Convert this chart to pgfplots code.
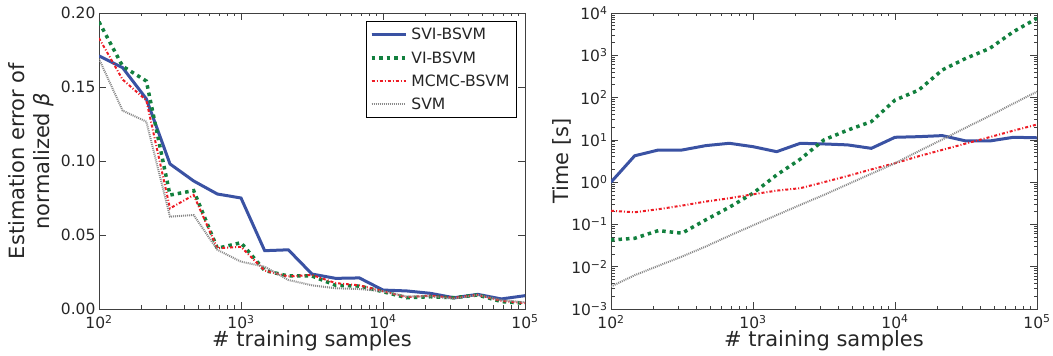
\documentclass[border=0pt]{standalone}
\usepackage{pgfplots}
\pgfplotsset{compat=1.18}
\usepackage{pgfplotstable}
\usepackage{fontspec}
\setmainfont{DejaVu Sans}
\definecolor{sviblue}{HTML}{3A52A3}
\definecolor{vigreen}{HTML}{12803E}
\definecolor{mcmcred}{HTML}{EE1C25}
\definecolor{svmgray}{HTML}{8A8A8A}
\newcommand\legfont{\fontsize{15.6}{18}\selectfont}

\pgfplotstableread{
x       svi     vi      mcmc    svm
100     0.171   0.194   0.183   0.169
146.78  0.163   0.164   0.155   0.134
215.44  0.142   0.154   0.141   0.1266
316.23  0.098   0.077   0.068   0.0624
464.16  0.0865  0.080   0.077   0.0635
681.29  0.0777  0.041   0.041   0.040
1000    0.075   0.0448  0.042   0.032
1467.8  0.0394  0.026   0.026   0.0286
2154.4  0.040   0.0223  0.022   0.0196
3162.3  0.0236  0.0223  0.023   0.016
4641.6  0.0207  0.016   0.0175  0.014
6812.9  0.021   0.0155  0.016   0.0135
10000   0.0128  0.0117  0.012   0.012
14678   0.0122  0.0076  0.008   0.0085
21544   0.0106  0.0083  0.009   0.0085
31623   0.0076  0.0076  0.0075  0.007
46416   0.0099  0.0095  0.0095  0.0095
68129   0.0068  0.005   0.0055  0.006
100000  0.009   0.0038  0.004   0.0045
}\errtable

\pgfplotstableread{
x       svi     vi      mcmc    svm
100     1.0     0.043   0.21    0.0034
146.78  4.2     0.047   0.194   0.0063
215.44  5.75    0.0715  0.229   0.0105
316.23  5.75    0.062   0.279   0.0174
464.16  7.3     0.128   0.347   0.030
681.29  8.3     0.255   0.416   0.054
1000    6.9     0.546   0.517   0.095
1467.8  5.25    1.48    0.63    0.166
2154.4  8.3     3.5     0.72    0.29
3162.3  8.0     10      1.0     0.50
4641.6  7.6     17      1.4     0.89
6812.9  6.3     27      2.0     1.58
10000   11.5    87      2.8     2.8
14678   11.9    150     4.1     5.4
21544   12.6    450     5.8     10.2
31623   9.4     850     8.2     19.5
46416   9.4     1450    11.6    37
68129   11.5    3600    16.5    72
100000  11.2    7500    23      138
}\timetable

\begin{document}
\begin{tikzpicture}
\useasboundingbox (-99pt,-47pt) rectangle (954pt,309pt);
\begin{axis}[
  scale only axis, width=426pt, height=296pt,
  xmode=log, xmin=100, xmax=100000,
  xtick={100,1000,10000,100000},
  xticklabels={10\textsuperscript{2},10\textsuperscript{3},10\textsuperscript{4},10\textsuperscript{5}},
  tick label style={font=\fontsize{15.5}{18}\selectfont, text=black!85},
  xticklabel style={yshift=-2.5pt},
  label style={font=\fontsize{21}{25}\selectfont, text=black!85},
  xlabel={\# training samples},
  xlabel style={at={(axis description cs:0.5,-0.108)}, anchor=center},
  major tick length=7pt, minor tick length=3.5pt,
  axis line style={black!75, line width=0.9pt},
  every tick/.style={black!75, line width=0.7pt},
  ymin=0, ymax=0.2,
  ytick={0,0.05,0.1,0.15,0.2},
  yticklabel style={/pgf/number format/fixed, /pgf/number format/fixed zerofill, /pgf/number format/precision=2, /pgf/number format/assume math mode=true},
  ylabel={Estimation error of\\normalized \textit{β}},
  ylabel style={align=center, at={(axis description cs:-0.158,0.5)}, anchor=center},
  legend style={font=\legfont, text=black!85, draw=black, line width=0.8pt,
    at={(1,1)}, anchor=north east, xshift=-8pt, yshift=-8pt,
    inner xsep=3pt, inner ysep=2pt, row sep=0pt,
    nodes={font=\legfont, inner xsep=4pt, inner ysep=5pt}},
  legend cell align=left,
  legend image code/.code={\draw[#1] (0pt,0pt) -- (24pt,0pt); \path (0pt,0pt) -- (34pt,0pt);},
]
\addplot[color=sviblue, line width=3pt, solid] table[x=x, y=svi] {\errtable};
\addlegendentry{SVI-BSVM}
\addplot[color=vigreen, line width=3.5pt, dash pattern=on 3.5pt off 4pt] table[x=x, y=vi] {\errtable};
\addlegendentry{VI-BSVM}
\addplot[color=mcmcred, line width=2pt, dash pattern=on 3pt off 2pt on 1pt off 2pt] table[x=x, y=mcmc] {\errtable};
\addlegendentry{MCMC-BSVM}
\addplot[color=svmgray, line width=2pt, dash pattern=on 1pt off 1pt] table[x=x, y=svm] {\errtable};
\addlegendentry{SVM}
\end{axis}
\begin{axis}[at={(512pt,0pt)},
  scale only axis, width=426pt, height=296pt,
  xmode=log, xmin=100, xmax=100000,
  xtick={100,1000,10000,100000},
  xticklabels={10\textsuperscript{2},10\textsuperscript{3},10\textsuperscript{4},10\textsuperscript{5}},
  tick label style={font=\fontsize{15.5}{18}\selectfont, text=black!85},
  xticklabel style={yshift=-2.5pt},
  label style={font=\fontsize{21}{25}\selectfont, text=black!85},
  xlabel={\# training samples},
  xlabel style={at={(axis description cs:0.5,-0.108)}, anchor=center},
  major tick length=7pt, minor tick length=3.5pt,
  axis line style={black!75, line width=0.9pt},
  every tick/.style={black!75, line width=0.7pt},
  ymode=log, ymin=0.001, ymax=10000,
  ytick={0.001,0.01,0.1,1,10,100,1000,10000},
  yticklabels={10\textsuperscript{−3},10\textsuperscript{−2},10\textsuperscript{−1},10\textsuperscript{0},10\textsuperscript{1},10\textsuperscript{2},10\textsuperscript{3},10\textsuperscript{4}},
  ylabel={Time [s]},
  ylabel style={at={(axis description cs:-0.115,0.5)}, anchor=center},
]
\addplot[color=sviblue, line width=3pt, solid] table[x=x, y=svi] {\timetable};
\addplot[color=vigreen, line width=3.5pt, dash pattern=on 3.5pt off 4pt] table[x=x, y=vi] {\timetable};
\addplot[color=mcmcred, line width=2pt, dash pattern=on 3pt off 2pt on 1pt off 2pt] table[x=x, y=mcmc] {\timetable};
\addplot[color=svmgray, line width=2pt, dash pattern=on 1pt off 1pt] table[x=x, y=svm] {\timetable};
\end{axis}
\end{tikzpicture}
\end{document}
